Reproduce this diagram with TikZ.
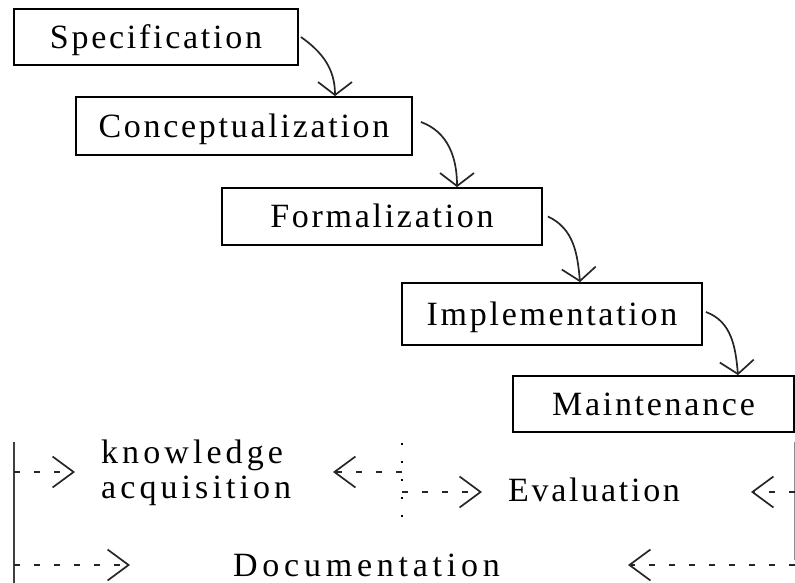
\documentclass[tikz,border=0pt]{standalone}
\usepackage{fontspec}
\setmainfont{Liberation Serif}
\newfontfamily\stagefont[LetterSpace=8]{Liberation Serif}
\newfontfamily\widefont[LetterSpace=12]{Liberation Serif}
\newfontfamily\widerfont[LetterSpace=14]{Liberation Serif}
\usetikzlibrary{arrows.meta}

\begin{document}
\begin{tikzpicture}[x=1pt,y=-1pt,
  stage/.style={draw, line width=1.8pt, inner sep=0pt,
    text height=22.5pt, text depth=0pt,
    font=\fontsize{34}{34}\stagefont},
  phase/.style={inner sep=0pt, text height=22.5pt, text depth=0pt,
    font=\fontsize{34}{34}\stagefont},
  flow/.style={line width=1.7pt, black!85,
    -{Straight Barb[length=13pt,width=34pt,line width=1.7pt]}},
  dflow/.style={line width=1.6pt, black!85, dash pattern=on 6pt off 14pt,
    -{Straight Barb[length=21pt,width=31pt,line width=1.7pt]}},
  rail/.style={line width=2pt, black!75},
  fork/.style={line width=2pt, dash pattern=on 2pt off 16pt},
]
\useasboundingbox (0,0) rectangle (795,583);

% the five stages, stepping down to the right
\node[stage, minimum width=284pt, minimum height=56pt] (spec)    at (156,37)    {Specification};
\node[stage, minimum width=336pt, minimum height=58pt] (concept) at (244,126)   {Conceptualization};
\node[stage, minimum width=320pt, minimum height=57pt] (formal)  at (382,216.5) {Formalization};
\node[stage, minimum width=300pt, minimum height=62pt] (impl)    at (552,314)   {Implementation};
\node[stage, minimum width=281pt, minimum height=56pt] (maint)   at (653.5,404) {Maintenance};

% curved hand-offs between stages
\draw[flow] ([xshift=2pt]spec.east) to[out=-35,in=90]
  ([xshift=91pt]concept.north);
\draw[flow] ([xshift=8pt,yshift=4pt]concept.east) to[out=-20,in=90]
  ([xshift=75pt]formal.north);
\draw[flow] ([xshift=5pt]formal.east) to[out=-25,in=95]
  ([xshift=28pt]impl.north);
\draw[flow] ([xshift=3pt,yshift=2pt]impl.east) to[out=-20,in=95]
  ([xshift=84.5pt]maint.north);

% supporting activities running alongside
\coordinate (railLtop) at (14,442);
\coordinate (railLbot) at (14,583);
\coordinate (railRtop) at (794,442);
\coordinate (railRbot) at (794,560);
\coordinate (forktop)  at (402,443);
\coordinate (forkbot)  at (402,518);

\draw[rail] (railLtop) -- (railLbot);
\draw[line width=1pt, black!45] (railRtop) -- (railRbot);
\draw[fork] (forktop) -- (forkbot);

\node[inner sep=0pt, anchor=north west, align=left,
  font=\fontsize{34}{35}\widefont] (ka) at (101,440) {knowledge\\acquisition};
\node[phase, anchor=west] (eval) at (508,490.5) {Evaluation};
\node[phase, anchor=west, font=\fontsize{34}{34}\widerfont] (doc) at (233,565) {Documentation};

\coordinate (kaL)   at (14,472);
\coordinate (kaLt)  at (75,472);
\coordinate (kaR)   at (402,472);
\coordinate (kaRt)  at (333,472);
\coordinate (evL)   at (402,492);
\coordinate (evLt)  at (482,492);
\coordinate (evR)   at (795,492);
\coordinate (evRt)  at (751,492);
\coordinate (docL)  at (14,565);
\coordinate (docLt) at (130,565);
\coordinate (docR)  at (795,565);
\coordinate (docRt) at (628,565);

\draw[dflow] (kaL) -- (kaLt);
\draw[dflow] (kaR) -- (kaRt);
\draw[dflow] (evL) -- (evLt);
\draw[dflow] (evR) -- (evRt);
\draw[dflow] (docL) -- (docLt);
\draw[dflow] (docR) -- (docRt);
\end{tikzpicture}
\end{document}
